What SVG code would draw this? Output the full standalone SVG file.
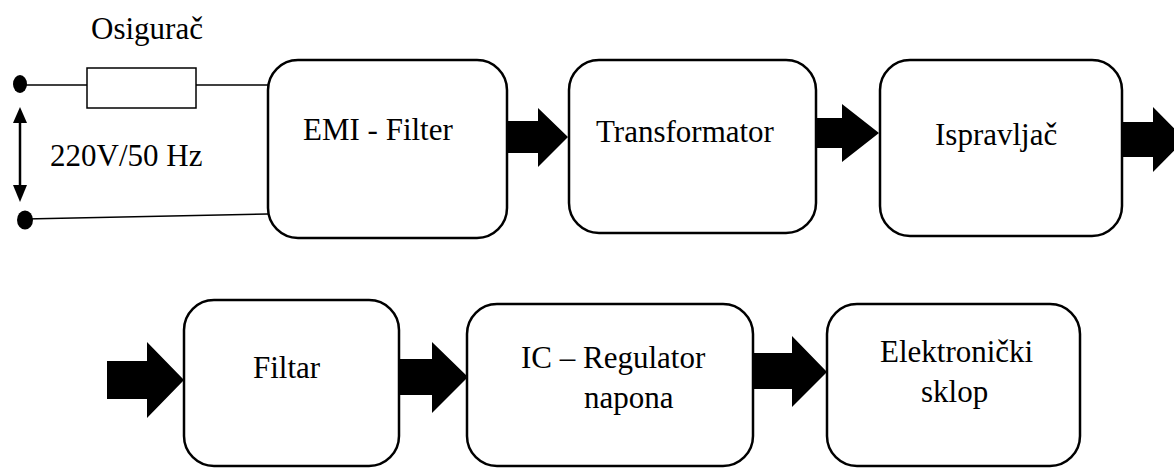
<svg xmlns="http://www.w3.org/2000/svg" width="1174" height="468" viewBox="0 0 1174 468">
<style>
.box{fill:#fff;stroke:#000;stroke-width:2.5}
text{font-family:'Liberation Serif','Times New Roman','DejaVu Serif',serif;font-size:31px;fill:#000}
.w{stroke:#000;stroke-width:1.5;fill:none}
.arr{fill:#000}
</style>
<rect width="1174" height="468" fill="#fff"/>
<g id="source">
  <text x="91" y="39" font-family="Liberation Serif, serif">Osigurač</text>
  <ellipse cx="20" cy="84" rx="7" ry="9" fill="#000"/>
  <ellipse cx="25" cy="220" rx="8" ry="9.5" fill="#000"/>
  <line class="w" x1="20" y1="85" x2="87" y2="85"/>
  <rect x="87" y="68" width="109" height="40" fill="#fff" stroke="#000" stroke-width="1.5"/>
  <line class="w" x1="196" y1="85" x2="268" y2="85"/>
  <line class="w" x1="25" y1="219" x2="268" y2="214"/>
  <line x1="20" y1="120" x2="20" y2="188" stroke="#000" stroke-width="2.5"/>
  <polygon points="20,107 27,123 13,123" fill="#000"/>
  <polygon points="20,202 27,185 13,185" fill="#000"/>
  <text x="50" y="166" font-family="Liberation Serif, serif">220V/50 Hz</text>
</g>
<g id="emi">
  <rect class="box" x="268" y="60" width="239" height="178" rx="30"/>
  <text x="303" y="140" font-family="Liberation Serif, serif">EMI - Filter</text>
</g>
<g id="transformator">
  <rect class="box" x="569" y="60" width="247" height="173" rx="30"/>
  <text x="596" y="142" font-family="Liberation Serif, serif">Transformator</text>
</g>
<g id="ispravljac">
  <rect class="box" x="880" y="60" width="242" height="176" rx="30"/>
  <text x="935" y="145" font-family="Liberation Serif, serif">Ispravljač</text>
</g>
<g id="filtar">
  <rect class="box" x="184" y="300" width="215" height="166" rx="30"/>
  <text x="253" y="378" font-family="Liberation Serif, serif">Filtar</text>
</g>
<g id="regulator">
  <rect class="box" x="467" y="304" width="286" height="162" rx="30"/>
  <text x="521" y="368" font-family="Liberation Serif, serif">IC – Regulator</text>
  <text x="584" y="408" font-family="Liberation Serif, serif">napona</text>
</g>
<g id="sklop">
  <rect class="box" x="827" y="304" width="253" height="162" rx="30"/>
  <text x="880" y="362" font-family="Liberation Serif, serif">Elektronički</text>
  <text x="921" y="402" font-family="Liberation Serif, serif">sklop</text>
</g>
<g id="connectors">
  <polygon class="arr" points="507,121 538,121 538,108 568,137 538,167 538,153 507,153"/>
  <polygon class="arr" points="816,118 842,118 842,104 879,133 842,162 842,148 816,148"/>
  <polygon class="arr" points="1122,122 1153,122 1153,107 1185,139.5 1153,172 1153,157 1122,157"/>
  <polygon class="arr" points="107,361 147,361 147,342 184,380 147,418 147,399 107,399"/>
  <polygon class="arr" points="399,359 432,359 432,342 468,377 432,413 432,395 399,395"/>
  <polygon class="arr" points="753,353 792,353 792,336 827,372 792,407 792,389 753,389"/>
</g>
</svg>
